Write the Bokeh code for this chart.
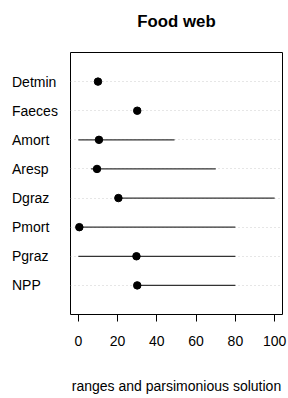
from bokeh.plotting import figure
from bokeh.layouts import row
from bokeh.models import FixedTicker, ColumnDataSource, Range1d, LinearAxis
from bokeh.core.properties import value
from bokeh.embed import file_html
from bokeh.resources import INLINE
import numpy as np

categories = ["NPP", "Pgraz", "Pmort", "Dgraz", "Aresp", "Amort", "Faeces", "Detmin"]
solution = [30, 29.6, 0.5, 20.4, 9.5, 10.5, 30, 10]
range_low = [30, 0, 0, 20.4, 6.5, 0, np.nan, np.nan]
range_high = [80, 80, 80, 100, 70, 49, np.nan, np.nan]
x_ticks = [0, 20, 40, 60, 80, 100]
title_text = "Food web"
xlabel_text = "ranges and parsimonious solution"

ypos = list(range(1, len(categories) + 1))
src = ColumnDataSource(dict(y=ypos, cat=categories, sol=solution, lo=range_low, hi=range_high,
                            lx=[11.5] * len(categories)))

FONT = "Liberation Sans"
TOP, BOTTOM = 52, 84

# left label strip (same vertical scale as the dot chart)
lab = figure(width=70, height=398, output_backend="svg", toolbar_location=None,
             x_range=Range1d(0, 70), y_range=Range1d(0, len(categories) + 1),
             min_border_left=0, min_border_right=0, min_border_top=TOP, min_border_bottom=BOTTOM)
lab.axis.visible = False
lab.grid.visible = False
lab.outline_line_color = None
lab.text(x="lx", y="y", text="cat", source=src, text_align="left", text_baseline="middle",
         text_font=value(FONT), text_font_size="14px", text_color="black")

p = figure(width=218, height=398, output_backend="svg", toolbar_location=None,
           x_range=Range1d(-4, 104), y_range=lab.y_range,
           min_border_left=0, min_border_right=6, min_border_top=TOP, min_border_bottom=BOTTOM)

p.outline_line_color = "black"
p.outline_line_width = 1
p.background_fill_color = "white"
p.border_fill_color = "white"

p.xgrid.visible = False
p.ygrid.ticker = FixedTicker(ticks=ypos)
p.ygrid.grid_line_color = "#cccccc"
p.ygrid.grid_line_dash = "1 3"

p.segment(x0="lo", y0="y", x1="hi", y1="y", source=src, line_color="#333333", line_width=1.2)
p.scatter(x="sol", y="y", source=src, size=7.5, fill_color="black", line_color="black")

xa = p.xaxis[0]
xa.ticker = FixedTicker(ticks=x_ticks)
xa.minor_tick_line_color = None
xa.major_tick_in = 0
xa.major_tick_out = 7
xa.major_tick_line_color = "black"
xa.axis_line_color = None
xa.major_label_text_font = FONT
xa.major_label_text_font_size = "14px"
xa.major_label_text_color = "black"
xa.major_label_standoff = 14
xa.axis_label = xlabel_text
xa.axis_label_text_font = FONT
xa.axis_label_text_font_size = "14px"
xa.axis_label_text_font_style = "normal"
xa.axis_label_text_color = "black"
xa.axis_label_standoff = 29

# title drawn as the label of an empty axis above the frame
ta = LinearAxis(ticker=FixedTicker(ticks=[]), axis_label=title_text)
ta.axis_line_color = None
ta.major_tick_line_color = None
ta.minor_tick_line_color = None
ta.major_tick_in = 0
ta.major_tick_out = 0
ta.major_label_standoff = 5
ta.axis_label_standoff = 22
ta.axis_label_text_font = FONT
ta.axis_label_text_font_size = "16.8px"
ta.axis_label_text_font_style = "bold"
ta.axis_label_text_color = "black"
p.add_layout(ta, "above")

p.yaxis[0].visible = False

layout = row(lab, p, spacing=0)
open("out.html", "w").write(file_html(layout, INLINE))
